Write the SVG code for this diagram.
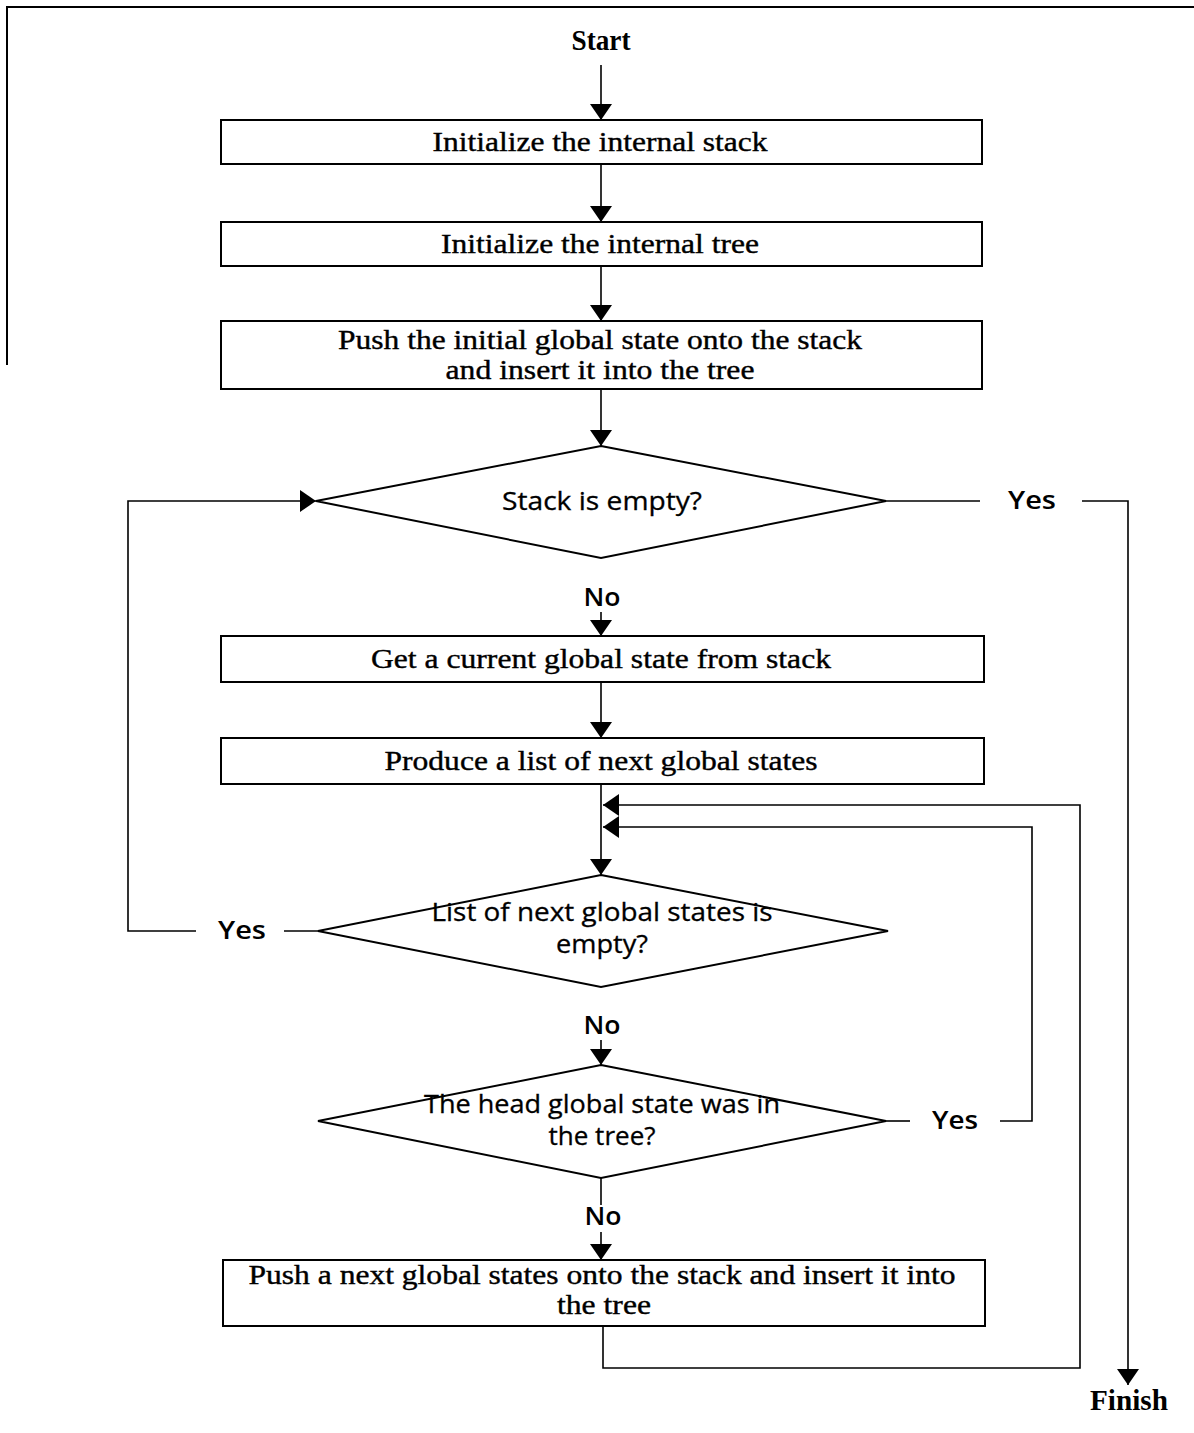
<svg xmlns="http://www.w3.org/2000/svg" width="1194" height="1433" viewBox="0 0 1194 1433">
<style>
.box{fill:#fff;stroke:#000;stroke-width:2}
.dia{fill:#fff;stroke:#000;stroke-width:2}
.ln{fill:none;stroke:#000;stroke-width:1.6}
.frame{fill:none;stroke:#000;stroke-width:2}
.t{font-family:"Liberation Serif",serif;font-size:28px;text-anchor:middle;fill:#000;stroke:#000;stroke-width:0.4}
.d{font-family:"Open Sans","DejaVu Sans",sans-serif;font-size:25px;text-anchor:middle;fill:#000;stroke:#000;stroke-width:0.3}
.lb{font-family:"Open Sans","DejaVu Sans",sans-serif;font-size:26px;font-weight:600;text-anchor:middle;fill:#000}
.se{font-family:"Liberation Serif",serif;font-size:29px;font-weight:bold;text-anchor:middle;fill:#000}
</style>
<defs>
<marker id="ah" viewBox="0 0 16 22" refX="16" refY="11" markerWidth="16" markerHeight="22" markerUnits="userSpaceOnUse" orient="auto">
<path d="M0,0 L16,11 L0,22 Z" fill="#000"/>
</marker>
</defs>
<rect width="1194" height="1433" fill="#fff"/>
<path class="frame" d="M7,365 L7,7 L1194,7"/>

<g id="connectors">
<line class="ln" x1="601" y1="65" x2="601" y2="120" marker-end="url(#ah)"/>
<line class="ln" x1="601" y1="164" x2="601" y2="222" marker-end="url(#ah)"/>
<line class="ln" x1="601" y1="266" x2="601" y2="321" marker-end="url(#ah)"/>
<line class="ln" x1="601" y1="389" x2="601" y2="446" marker-end="url(#ah)"/>
<line class="ln" x1="601" y1="612" x2="601" y2="636" marker-end="url(#ah)"/>
<line class="ln" x1="601" y1="682" x2="601" y2="738" marker-end="url(#ah)"/>
<line class="ln" x1="601" y1="784" x2="601" y2="875" marker-end="url(#ah)"/>
<line class="ln" x1="601" y1="1040" x2="601" y2="1065" marker-end="url(#ah)"/>
<line class="ln" x1="601" y1="1178" x2="601" y2="1205"/>
<line class="ln" x1="601" y1="1232" x2="601" y2="1260" marker-end="url(#ah)"/>
<line class="ln" x1="886" y1="501" x2="980" y2="501"/>
<path class="ln" d="M1082,501 L1128,501 L1128,1385" marker-end="url(#ah)"/>
<line class="ln" x1="284" y1="931" x2="318" y2="931"/>
<path class="ln" d="M196,931 L128,931 L128,501 L316,501" marker-end="url(#ah)"/>
<line class="ln" x1="886" y1="1121" x2="910" y2="1121"/>
<path class="ln" d="M1000,1121 L1032,1121 L1032,827 L603,827" marker-end="url(#ah)"/>
<path class="ln" d="M603,1326 L603,1368 L1080,1368 L1080,805 L603,805" marker-end="url(#ah)"/>
</g>

<g id="start"><text class="se" x="601" y="50" textLength="59" lengthAdjust="spacingAndGlyphs">Start</text></g>
<g id="init-stack">
<rect class="box" x="221" y="120" width="761" height="44"/>
<text class="t" x="600" y="151" textLength="335" lengthAdjust="spacingAndGlyphs">Initialize the internal stack</text>
</g>
<g id="init-tree">
<rect class="box" x="221" y="222" width="761" height="44"/>
<text class="t" x="600" y="253" textLength="318" lengthAdjust="spacingAndGlyphs">Initialize the internal tree</text>
</g>
<g id="push-initial">
<rect class="box" x="221" y="321" width="761" height="68"/>
<text class="t" x="600" y="349" textLength="524" lengthAdjust="spacingAndGlyphs">Push the initial global state onto the stack</text>
<text class="t" x="600" y="379" textLength="309" lengthAdjust="spacingAndGlyphs">and insert it into the tree</text>
</g>
<g id="stack-empty">
<polygon class="dia" points="601,446 886,501 601,558 316,501"/>
<text class="d" x="602" y="510" textLength="200" lengthAdjust="spacingAndGlyphs">Stack is empty?</text>
</g>
<g id="lbl-yes1"><text class="lb" x="1032" y="509" textLength="48" lengthAdjust="spacingAndGlyphs">Yes</text></g>
<g id="lbl-no1"><text class="lb" x="602" y="606" textLength="37" lengthAdjust="spacingAndGlyphs">No</text></g>
<g id="get-current">
<rect class="box" x="221" y="636" width="763" height="46"/>
<text class="t" x="601" y="668" textLength="460" lengthAdjust="spacingAndGlyphs">Get a current global state from stack</text>
</g>
<g id="produce-list">
<rect class="box" x="221" y="738" width="763" height="46"/>
<text class="t" x="601" y="770" textLength="433" lengthAdjust="spacingAndGlyphs">Produce a list of next global states</text>
</g>
<g id="list-empty">
<polygon class="dia" points="601,875 888,931 601,987 318,931"/>
<text class="d" x="602" y="921" textLength="341" lengthAdjust="spacingAndGlyphs">List of next global states is</text>
<text class="d" x="602" y="953" textLength="92" lengthAdjust="spacingAndGlyphs">empty?</text>
</g>
<g id="lbl-yes2"><text class="lb" x="242" y="939" textLength="48" lengthAdjust="spacingAndGlyphs">Yes</text></g>
<g id="lbl-no2"><text class="lb" x="602" y="1034" textLength="37" lengthAdjust="spacingAndGlyphs">No</text></g>
<g id="head-in-tree">
<polygon class="dia" points="601,1065 886,1121 601,1178 318,1121"/>
<text class="d" x="602" y="1113" textLength="356" lengthAdjust="spacingAndGlyphs">The head global state was in</text>
<text class="d" x="602" y="1145" textLength="107" lengthAdjust="spacingAndGlyphs">the tree?</text>
</g>
<g id="lbl-yes3"><text class="lb" x="955" y="1129" textLength="46" lengthAdjust="spacingAndGlyphs">Yes</text></g>
<g id="lbl-no3"><text class="lb" x="603" y="1225" textLength="37" lengthAdjust="spacingAndGlyphs">No</text></g>
<g id="push-next">
<rect class="box" x="223" y="1260" width="762" height="66"/>
<text class="t" x="602" y="1284" textLength="707" lengthAdjust="spacingAndGlyphs">Push a next global states onto the stack and insert it into</text>
<text class="t" x="604" y="1314" textLength="94" lengthAdjust="spacingAndGlyphs">the tree</text>
</g>
<g id="finish"><text class="se" x="1129" y="1410" textLength="78" lengthAdjust="spacingAndGlyphs">Finish</text></g>
</svg>
